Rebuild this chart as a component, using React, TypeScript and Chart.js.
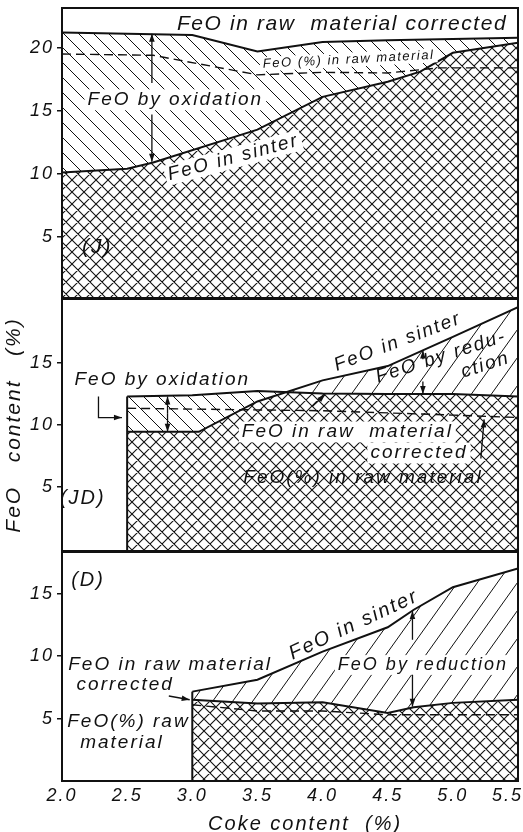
import React, { useEffect, useRef } from 'react';
import { Chart, registerables } from 'chart.js';
Chart.register(...registerables);

const FONT = "'Liberation Sans', Arial, sans-serif";
const INK = '#111';

// ---------- axis ticks ----------
const xTicks = [2.0, 2.5, 3.0, 3.5, 4.0, 4.5, 5.0, 5.5];
const yTicksJ = [5, 10, 15, 20];
const yTicksJD = [5, 10, 15];
const yTicksD = [5, 10, 15];

// ---------- panel (J) ----------
const jCorrX = [2.0, 3.0, 3.5, 4.0, 4.5, 5.0, 5.5];
const jCorrY = [21.2, 21.0, 19.7, 20.45, 20.6, 20.7, 20.8];
const jSintX = [2.0, 2.5, 2.7, 3.5, 4.0, 4.5, 4.75, 5.0, 5.5];
const jSintY = [10.1, 10.4, 10.9, 13.5, 16.1, 17.3, 18.1, 19.6, 20.4];
const jRawX = [2.0, 2.7, 3.5, 4.0, 4.5, 4.9, 5.5];
const jRawY = [19.5, 19.4, 17.85, 18.05, 18.0, 18.4, 18.4];

// ---------- panel (JD) ----------
const jdCorrX = [2.5, 3.0, 3.5, 4.0, 4.5, 5.0, 5.5];
const jdCorrY = [12.3, 12.4, 12.75, 12.55, 12.5, 12.5, 12.3];
const jdSintX = [2.5, 3.05, 3.5, 4.0, 4.5, 5.0, 5.5];
const jdSintY = [9.45, 9.45, 11.9, 13.6, 14.75, 17.1, 19.5];
const jdRawX = [2.5, 4.0, 5.0, 5.5];
const jdRawY = [11.35, 11.15, 10.8, 10.6];

// ---------- panel (D) ----------
const dCorrX = [3.0, 3.5, 4.0, 4.5, 4.7, 5.0, 5.5];
const dCorrY = [6.5, 6.2, 6.3, 5.45, 5.9, 6.25, 6.5];
const dSintX = [3.0, 3.5, 4.0, 4.5, 4.7, 5.0, 5.5];
const dSintY = [7.15, 8.1, 10.35, 12.3, 13.7, 15.5, 17.0];
const dRawX = [3.0, 3.5, 4.0, 4.5, 5.5];
const dRawY = [6.1, 5.6, 5.6, 5.3, 5.3];

// ---------- annotations: [text, coke, FeO, size, rotation, whiteBg, letterSpacing] ----------
const jTexts: any[] = [
  ['FeO in raw  material corrected', 4.15, 21.83, 21, 0, false, 1.6],
  ['FeO (%) in raw material', 4.2, 19.05, 13, -3, true, 1.5],
  ['FeO by oxidation', 2.87, 15.87, 19, 0, true, 2],
  ['FeO in sinter', 3.315, 11.27, 19, -15, true, 2],
  ['(J)', 2.27, 4.2, 21, 0, false, 2],
];
const jArrows: any[] = [
  [[2.69, 17.2], [2.69, 21.1]],
  [[2.69, 14.7], [2.69, 10.95]],
];

const jdTexts: any[] = [
  ['FeO in sinter', 4.577, 16.69, 19, -21, false, 2],
  ['FeO by redu-', 4.91, 15.5, 19, -18, false, 2],
  ['ction', 5.25, 14.84, 19, -18, false, 2],
  ['FeO by oxidation', 2.77, 13.63, 19, 0, false, 2],
  ['FeO in raw  material', 4.19, 9.44, 19, 0, true, 2],
  ['corrected', 4.74, 7.74, 19, 0, true, 2],
  ['FeO(%) in raw material', 4.31, 5.73, 19, 0, false, 2],
  ['(JD)', 2.16, 4.11, 20, 0, false, 2],
];
const jdArrows: any[] = [
  [[2.81, 10.9], [2.81, 12.3]],
  [[2.81, 10.9], [2.81, 9.45]],
  [[4.77, 15.3], [4.77, 16.0]],
  [[4.77, 13.5], [4.77, 12.5]],
  [[5.215, 7.3], [5.24, 10.45]],
  [[3.92, 11.5], [4.02, 12.45]],
  [[2.28, 12.3], [2.28, 10.6], [2.46, 10.6]],
];

const dTexts: any[] = [
  ['(D)', 2.2, 16.08, 20, 0, false, 2],
  ['FeO in sinter', 4.24, 12.48, 20, -25, false, 2],
  ['FeO in raw material', 2.83, 9.28, 19, 0, false, 2],
  ['corrected', 2.485, 7.68, 19, 0, false, 2],
  ['FeO(%) raw', 2.51, 4.72, 19, 0, false, 2],
  ['material', 2.46, 3.04, 19, 0, false, 2],
  ['FeO by reduction', 4.77, 9.28, 18, 0, true, 2],
];
const dArrows: any[] = [
  [[4.69, 11.3], [4.69, 13.6]],
  [[4.69, 8.5], [4.69, 5.95]],
  [[2.82, 6.8], [2.98, 6.5]],
];

const panels: any[] = [
  {
    corrX: jCorrX, corrY: jCorrY, sintX: jSintX, sintY: jSintY, rawX: jRawX, rawY: jRawY,
    yMin: 0.15, yMax: 23.15, yTicks: yTicksJ, texts: jTexts, arrows: jArrows,
    edge: false, showX: false, yTitle: null,
    top: 0, height: 299, padTop: 8, padBottom: 1,
  },
  {
    corrX: jdCorrX, corrY: jdCorrY, sintX: jdSintX, sintY: jdSintY, rawX: jdRawX, rawY: jdRawY,
    yMin: -0.16, yMax: 20.16, yTicks: yTicksJD, texts: jdTexts, arrows: jdArrows,
    edge: true, showX: false, yTitle: 'FeO   content   (%)',
    top: 298, height: 254, padTop: 1, padBottom: 1,
  },
  {
    corrX: dCorrX, corrY: dCorrY, sintX: dSintX, sintY: dSintY, rawX: dRawX, rawY: dRawY,
    yMin: 0, yMax: 18.32, yTicks: yTicksD, texts: dTexts, arrows: dArrows,
    edge: true, showX: true, yTitle: null,
    top: 551, height: 290, padTop: 1, padBottom: 0,
  },
];

function hatch(w: number, h: number, dirs: string[], lw: number) {
  const c = document.createElement('canvas');
  c.width = w;
  c.height = h;
  const g = c.getContext('2d') as CanvasRenderingContext2D;
  g.fillStyle = '#fff';
  g.fillRect(0, 0, w, h);
  g.strokeStyle = INK;
  g.lineWidth = lw;
  g.beginPath();
  for (const d of dirs) {
    for (let k = -1; k <= 1; k++) {
      if (d === '/') {
        g.moveTo(k * w, h);
        g.lineTo(k * w + w, 0);
      } else {
        g.moveTo(k * w, 0);
        g.lineTo(k * w + w, h);
      }
    }
  }
  g.stroke();
  return g.createPattern(c, 'repeat');
}

const spacingPlugin = {
  id: 'spacing',
  beforeDraw(chart: any) {
    chart.ctx.letterSpacing = '2px';
  },
};

const framePlugin = {
  id: 'frame',
  afterDatasetsDraw(chart: any) {
    const { ctx, chartArea: a } = chart;
    ctx.save();
    ctx.strokeStyle = INK;
    ctx.lineWidth = 2;
    ctx.strokeRect(a.left, a.top, a.right - a.left, a.bottom - a.top);
    ctx.restore();
  },
};

function notesPlugin(p: any) {
  return {
    id: 'notes',
    afterDatasetsDraw(chart: any) {
      const { ctx } = chart;
      const xs = chart.scales.x;
      const ys = chart.scales.y;
      ctx.save();
      for (const t of p.texts) {
        const [text, x, y, size, rot, bg, ls] = t;
        ctx.save();
        ctx.translate(xs.getPixelForValue(x), ys.getPixelForValue(y));
        ctx.rotate((rot * Math.PI) / 180);
        ctx.font = `italic ${size}px ${FONT}`;
        ctx.letterSpacing = `${ls}px`;
        ctx.textAlign = 'center';
        ctx.textBaseline = 'middle';
        if (bg) {
          const w = ctx.measureText(text).width;
          ctx.fillStyle = '#fff';
          ctx.fillRect(-w / 2 - 3, -size * 0.55, w + 6, size * 1.1);
        }
        ctx.fillStyle = INK;
        ctx.fillText(text, 0, 0);
        ctx.restore();
      }
      ctx.strokeStyle = INK;
      ctx.fillStyle = INK;
      ctx.lineWidth = 1.3;
      for (const ar of p.arrows) {
        const P = ar.map((q: number[]) => [xs.getPixelForValue(q[0]), ys.getPixelForValue(q[1])]);
        ctx.beginPath();
        ctx.moveTo(P[0][0], P[0][1]);
        for (let i = 1; i < P.length; i++) ctx.lineTo(P[i][0], P[i][1]);
        ctx.stroke();
        const [x1, y1] = P[P.length - 2];
        const [x2, y2] = P[P.length - 1];
        const an = Math.atan2(y2 - y1, x2 - x1);
        const L = 8;
        const W = 2.8;
        ctx.beginPath();
        ctx.moveTo(x2, y2);
        ctx.lineTo(x2 - L * Math.cos(an) + W * Math.sin(an), y2 - L * Math.sin(an) - W * Math.cos(an));
        ctx.lineTo(x2 - L * Math.cos(an) - W * Math.sin(an), y2 - L * Math.sin(an) + W * Math.cos(an));
        ctx.closePath();
        ctx.fill();
      }
      ctx.restore();
    },
  };
}

function buildConfig(p: any, pats: any) {
  const pt = (xs: number[], ys: number[]) => xs.map((x, i) => ({ x, y: ys[i] }));
  const datasets: any[] = [
    {
      label: 'FeO in raw material corrected',
      data: pt(p.corrX, p.corrY),
      borderColor: INK,
      borderWidth: 2,
      pointRadius: 0,
      fill: { target: 'start', above: pats.cross, below: pats.cross },
      order: 3,
    },
    {
      label: 'FeO in sinter',
      data: pt(p.sintX, p.sintY),
      borderColor: INK,
      borderWidth: 2,
      pointRadius: 0,
      fill: { target: 0, above: pats.fwd, below: pats.back },
      order: 2,
    },
    {
      label: 'FeO (%) in raw material',
      data: pt(p.rawX, p.rawY),
      borderColor: INK,
      borderWidth: 1.4,
      borderDash: [9, 5],
      pointRadius: 0,
      fill: false,
      order: 1,
    },
  ];
  if (p.edge) {
    datasets.push({
      label: 'edge',
      data: [
        { x: p.corrX[0], y: p.yMin },
        { x: p.corrX[0], y: Math.max(p.corrY[0], p.sintY[0]) },
      ],
      borderColor: INK,
      borderWidth: 2,
      pointRadius: 0,
      fill: false,
      order: 1,
    });
  }
  const tickFont = { family: FONT, size: 18, style: 'italic' as const };
  return {
    type: 'line' as const,
    data: { datasets },
    options: {
      animation: false as const,
      responsive: false,
      maintainAspectRatio: false,
      layout: { padding: { top: p.padTop, bottom: p.padBottom, left: 0, right: 5 } },
      elements: { line: { tension: 0 }, point: { radius: 0 } },
      plugins: {
        legend: { display: false },
        tooltip: { enabled: false },
        filler: { drawTime: 'beforeDatasetsDraw' },
      },
      scales: {
        x: {
          type: 'linear',
          min: 2.0,
          max: 5.5,
          display: p.showX,
          afterBuildTicks: (s: any) => {
            s.ticks = xTicks.map((v) => ({ value: v }));
          },
          afterFit: (s: any) => {
            s.paddingLeft = 0;
            s.paddingRight = 0;
            if (p.showX) s.height = 60;
          },
          grid: { display: false, drawTicks: false },
          border: { display: false },
          ticks: {
            autoSkip: false,
            maxRotation: 0,
            color: INK,
            font: tickFont,
            padding: 4,
            callback: (v: number, i: number) =>
              i === xTicks.length - 1 ? v.toFixed(1) + '\u00a0\u00a0\u00a0' : v.toFixed(1),
          },
          title: {
            display: true,
            text: '    Coke content  (%)',
            color: INK,
            font: { family: FONT, size: 20, style: 'italic' },
            padding: { top: 0, bottom: 5 },
          },
        },
        y: {
          type: 'linear',
          min: p.yMin,
          max: p.yMax,
          afterBuildTicks: (s: any) => {
            s.ticks = p.yTicks.map((v: number) => ({ value: v }));
          },
          afterFit: (s: any) => {
            s.width = 62;
            s.paddingTop = 0;
            s.paddingBottom = 0;
          },
          grid: { drawOnChartArea: false, drawTicks: true, tickLength: 5, color: INK, lineWidth: 1.5 },
          border: { display: false },
          ticks: { color: INK, font: tickFont, padding: 3, callback: (v: number) => String(v) },
          title: p.yTitle
            ? {
                display: true,
                text: p.yTitle,
                color: INK,
                font: { family: FONT, size: 21, style: 'italic' },
                padding: { top: 2, bottom: 0 },
              }
            : { display: false },
        },
      },
    },
    plugins: [spacingPlugin, framePlugin, notesPlugin(p)],
  };
}

export default function App() {
  const r1 = useRef<HTMLCanvasElement>(null);
  const r2 = useRef<HTMLCanvasElement>(null);
  const r3 = useRef<HTMLCanvasElement>(null);
  const refs = [r1, r2, r3];

  useEffect(() => {
    const pats = {
      cross: hatch(12, 12, ['/', '\\'], 1.1),
      back: hatch(15, 15, ['\\'], 1),
      fwd: hatch(20, 28, ['/'], 1),
    };
    const charts = panels.map((p, i) => new Chart(refs[i].current as HTMLCanvasElement, buildConfig(p, pats) as any));
    return () => charts.forEach((c) => c.destroy());
  }, []);

  return (
    <div
      style={{
        position: 'absolute',
        left: 0,
        top: 0,
        width: 523,
        height: 832,
        overflow: 'hidden',
        background: '#fff',
      }}
    >
      {panels.map((p, i) => (
        <canvas
          key={i}
          ref={refs[i]}
          width={523}
          height={p.height}
          style={{ position: 'absolute', left: 0, top: p.top, width: 523, height: p.height }}
        />
      ))}
    </div>
  );
}
